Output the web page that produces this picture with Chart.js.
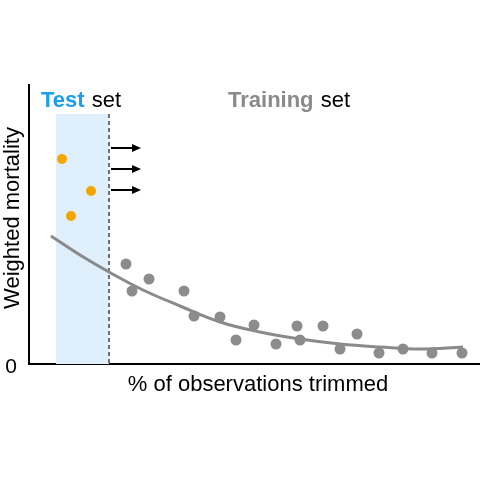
<!DOCTYPE html>
<html>
<head>
<meta charset="utf-8">
<script src="https://cdn.jsdelivr.net/npm/chart.js@4"></script>
<style>
  html, body { margin: 0; padding: 0; background: #fff; }
  #wrap { width: 480px; height: 480px; }
</style>
</head>
<body>
<div id="wrap"><canvas id="myChart" width="480" height="480"></canvas></div>
<script>
// data (x: % trimmed, y: weighted mortality, arbitrary units)

const testX = [33, 62, 42];
const testY = [205, 173, 148];

const trainX = [97, 120, 103, 155, 165, 191, 207, 225, 247, 268, 271, 294, 311, 328, 350, 374, 403, 433];
const trainY = [100, 85, 73, 73, 48, 47, 24, 39, 20, 38, 24, 38, 15, 30, 11, 15, 11, 11];

const fitX = [22, 51, 80, 114, 151, 191, 231, 271, 311, 351, 391, 434];
const fitY = [128, 109, 92, 74, 58, 42, 32, 25, 20, 17, 15, 17];

// test window, and the arrows pushing it to the right
const testWindow = [27, 80];
const testTop = 250;
const arrowFrom = 82;
const arrowTo = 112;
const arrowY = [216, 195, 174];

const font = "'Liberation Sans', Arial, sans-serif";

function pts(xs, ys) {
  return xs.map((x, i) => ({ x: x, y: ys[i] }));
}

// Draws the shaded test window and the dashed divider behind the data
const windowPlugin = {
  id: "testWindow",
  beforeDatasetsDraw(chart) {
    const { ctx, scales } = chart;
    const x0 = scales.x.getPixelForValue(testWindow[0]);
    const x1 = scales.x.getPixelForValue(testWindow[1]);
    const yTop = scales.y.getPixelForValue(testTop);
    const yBot = scales.y.getPixelForValue(0);
    ctx.save();
    ctx.fillStyle = "#dff0fc";
    ctx.fillRect(x0, yTop, x1 - x0, yBot - yTop);
    ctx.strokeStyle = "#707070";
    ctx.lineWidth = 2;
    ctx.setLineDash([4, 3]);
    ctx.beginPath();
    ctx.moveTo(x1, yTop);
    ctx.lineTo(x1, yBot);
    ctx.stroke();
    ctx.restore();
  },
};

// Arrows and the text labels on top
const labelsPlugin = {
  id: "labels",
  afterDraw(chart) {
    const { ctx, scales } = chart;
    ctx.save();
    ctx.strokeStyle = "#000";
    ctx.fillStyle = "#000";
    ctx.lineWidth = 2;
    arrowY.forEach((v) => {
      const y = scales.y.getPixelForValue(v);
      const xa = scales.x.getPixelForValue(arrowFrom);
      const xb = scales.x.getPixelForValue(arrowTo);
      ctx.beginPath();
      ctx.moveTo(xa, y);
      ctx.lineTo(xb - 8, y);
      ctx.stroke();
      ctx.beginPath();
      ctx.moveTo(xb, y);
      ctx.lineTo(xb - 9, y - 4);
      ctx.lineTo(xb - 9, y + 4);
      ctx.closePath();
      ctx.fill();
    });

    ctx.textBaseline = "alphabetic";
    ctx.textAlign = "left";
    ctx.font = "bold 22px " + font;
    ctx.fillStyle = "#1a9ef2";
    ctx.fillText("Test", 41, 107);
    let w = ctx.measureText("Test ").width;
    ctx.font = "22px " + font;
    ctx.fillStyle = "#000";
    ctx.fillText("set", 42 + w, 107);

    ctx.font = "bold 22px " + font;
    ctx.fillStyle = "#8a8a8a";
    ctx.fillText("Training", 228, 107);
    w = ctx.measureText("Training ").width;
    ctx.font = "22px " + font;
    ctx.fillStyle = "#000";
    ctx.fillText("set", 229 + w, 107);

    ctx.textAlign = "center";
    ctx.textBaseline = "middle";
    ctx.font = "22px " + font;
    ctx.fillText("% of observations trimmed", 258, 385);

    ctx.translate(13, 218);
    ctx.rotate(-Math.PI / 2);
    ctx.fillText("Weighted mortality", 0, 0);
    ctx.restore();
  },
};

const ctx = document.getElementById("myChart").getContext("2d");
const myChart = new Chart(ctx, {
  type: "scatter",
  data: {
    datasets: [
      {
        label: "Fit",
        type: "line",
        data: pts(fitX, fitY),
        borderColor: "#8a8a8a",
        borderWidth: 3,
        pointRadius: 0,
        tension: 0.4,
        fill: false,
      },
      {
        label: "Training",
        data: pts(trainX, trainY),
        backgroundColor: "#8c8c8c",
        borderWidth: 0,
        pointRadius: 5.5,
      },
      {
        label: "Test",
        data: pts(testX, testY),
        backgroundColor: "#f5a500",
        borderWidth: 0,
        pointRadius: 5,
      },
    ],
  },
  options: {
    responsive: false,
    animation: false,
    layout: { autoPadding: false, padding: { left: 0, right: 0, top: 85, bottom: 116 } },
    plugins: { legend: { display: false }, tooltip: { enabled: false } },
    scales: {
      x: {
        type: "linear",
        min: 0,
        max: 451,
        grid: { display: false },
        border: { display: true, color: "#000", width: 2 },
        ticks: { display: false },
        afterFit: (s) => { s.height = 0; },
      },
      y: {
        type: "linear",
        min: 0,
        max: 279,
        grid: { display: false },
        border: { display: true, color: "#000", width: 2 },
        afterBuildTicks: (s) => { s.ticks = [{ value: 0 }]; },
        ticks: {
          color: "#000",
          padding: 4,
          labelOffset: 3,
          font: { family: font, size: 21 },
          callback: (v) => (v === 0 ? "0" : ""),
        },
        afterFit: (s) => { s.width = 29; },
      },
    },
  },
  plugins: [windowPlugin, labelsPlugin],
});
</script>
</body>
</html>
